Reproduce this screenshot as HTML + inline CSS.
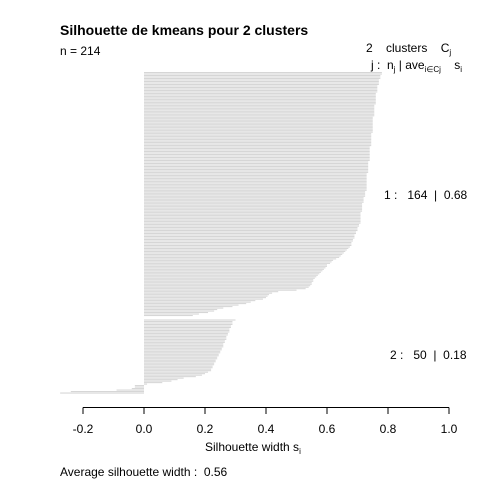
<!DOCTYPE html>
<html><head><meta charset="utf-8"><style>
html,body{margin:0;padding:0;background:#fff}
svg{display:block;font-family:"Liberation Sans",Arial,sans-serif}
svg text{white-space:pre}
</style></head><body>
<svg id="chart" width="480" height="480" viewBox="0 0 480 480" xmlns="http://www.w3.org/2000/svg" xml:space="preserve">
<rect width="480" height="480" fill="#fff"/>
<text x="60" y="35" font-size="14" font-weight="bold">Silhouette de kmeans pour 2 clusters</text>
<text x="60" y="55" font-size="12">n = 214</text>
<text x="366" y="52" font-size="12">2    clusters    C<tspan font-size="8" dy="3">j</tspan></text>
<text x="371" y="69" font-size="12">j :  n<tspan font-size="8" dy="3">j</tspan><tspan dy="-3"> | ave</tspan><tspan font-size="8" dy="3">i∈Cj</tspan><tspan dy="-3">    s</tspan><tspan font-size="8" dy="3">i</tspan></text>
<text x="384" y="199" font-size="12">1 :   164  |  0.68</text>
<text x="390" y="359" font-size="12">2 :   50  |  0.18</text>
<g id="bars"></g>
<g id="axis"></g>
<text x="205" y="451" font-size="12">Silhouette width s<tspan font-size="8" dy="3">i</tspan></text>
<text x="60" y="476" font-size="12">Average silhouette width :  0.56</text>
</svg>
<script>
const cluster1 = [.78,.78,.775,.775,.775,.77,.77,.77,.77,.765,
.765,.765,.765,.765,.76,.76,.76,.76,.76,.76,
.76,.76,.755,.755,.755,.755,.755,.755,.755,.755,
.75,.75,.75,.75,.75,.75,.75,.75,.75,.75,
.75,.745,.745,.745,.745,.745,.745,.745,.745,.745,
.74,.74,.74,.74,.74,.74,.74,.74,.74,.74,
.735,.735,.735,.735,.735,.735,.735,.735,.73,.73,
.73,.73,.73,.73,.73,.73,.73,.73,.73,.73,
.725,.725,.725,.725,.72,.72,.72,.72,.715,.715,
.715,.715,.715,.715,.71,.71,.71,.71,.71,.71,
.71,.71,.705,.705,.70,.70,.70,.695,.695,.69,
.69,.69,.685,.685,.68,.68,.68,.675,.67,.665,
.66,.655,.65,.645,.64,.63,.62,.615,.61,.60,
.60,.595,.59,.585,.58,.575,.57,.565,.56,.555,
.555,.55,.55,.545,.54,.53,.50,.44,.42,.41,
.405,.40,.39,.365,.35,.335,.31,.29,.26,.24,
.23,.21,.18,.16];
const cluster2 = [.30,.29,.29,.29,.285,.285,.28,.28,.28,.275,
.275,.27,.27,.27,.265,.265,.26,.26,.26,.255,
.255,.25,.25,.245,.245,.24,.24,.235,.235,.23,
.23,.225,.225,.22,.22,.21,.20,.19,.17,.13,
.11,.09,.06,.01,-.03,-.03,-.04,-.09,-.24,-.275];
const tickValues = [-0.2,0,0.2,0.4,0.6,0.8,1.0];
const tickLabels = ["-0.2","0.0","0.2","0.4","0.6","0.8","1.0"];
const NS='http://www.w3.org/2000/svg';
const xScale = v => 144 + v*305;
const plotTop = 72, plotBottom = 394, gapUnits = 2;
const unit = (plotBottom-plotTop)/(cluster1.length+cluster2.length+gapUnits);
const bars = document.getElementById('bars');
function drawBar(v, i, cl) {
  const r = document.createElementNS(NS,'rect');
  const x0 = Math.min(xScale(0), xScale(v)), w = Math.abs(xScale(v)-xScale(0));
  r.setAttribute('x', x0); r.setAttribute('y', plotTop + i*unit);
  r.setAttribute('width', Math.max(w,0.01)); r.setAttribute('height', unit*0.72);
  r.setAttribute('fill', '#d6d6d6');
  
  
  bars.appendChild(r);
}
cluster1.forEach((v,i)=>drawBar(v,i,1));
cluster2.forEach((v,i)=>drawBar(v,i+cluster1.length+gapUnits,2));
const axis = document.getElementById('axis');
const ln = document.createElementNS(NS,'line');
ln.setAttribute('x1', xScale(tickValues[0])); ln.setAttribute('x2', xScale(tickValues[tickValues.length-1]));
ln.setAttribute('y1', 407.5); ln.setAttribute('y2', 407.5);
ln.setAttribute('stroke', '#000');


axis.appendChild(ln);
tickValues.forEach((t,i)=>{
  const tk = document.createElementNS(NS,'line');
  tk.setAttribute('x1', xScale(t)); tk.setAttribute('x2', xScale(t));
  tk.setAttribute('y1', 407.5); tk.setAttribute('y2', 414);
  tk.setAttribute('stroke', '#000');
  
  
  axis.appendChild(tk);
  const tx = document.createElementNS(NS,'text');
  tx.setAttribute('x', xScale(t)); tx.setAttribute('y', 433);
  tx.setAttribute('text-anchor', 'middle'); tx.setAttribute('font-size', '12');
  tx.textContent = tickLabels[i];
  
  
  axis.appendChild(tx);
});
</script>
</body></html>
